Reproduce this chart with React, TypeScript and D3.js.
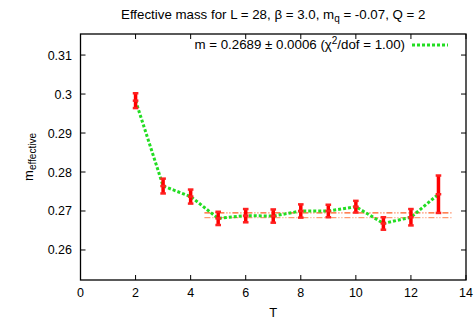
import React from "react";
import * as d3 from "d3";

const T = [2, 3, 4, 5, 6, 7, 8, 9, 10, 11, 12, 13];
const mEff = [0.2983, 0.2764, 0.2737, 0.2681, 0.2688, 0.2687, 0.2700, 0.2700, 0.2711, 0.2668, 0.2684, 0.2743];
const mErr = [0.0019, 0.0019, 0.0018, 0.0017, 0.0017, 0.0017, 0.0017, 0.0016, 0.0015, 0.0016, 0.0021, 0.0048];
const xTicks = [0, 2, 4, 6, 8, 10, 12, 14];
const yTicks = [0.26, 0.27, 0.28, 0.29, 0.3, 0.31];
const yTickLabels = ["0.26", "0.27", "0.28", "0.29", "0.3", "0.31"];
const fitValue = 0.2689;
const fitError = 0.0006;
const fitRange = [4.5, 13.5];

const W = 474;
const H = 320;
const left = 80.5;
const right = 466;
const top = 34;
const bottom = 280;

export default function App() {
  const x = d3.scaleLinear().domain([0, 14]).range([left, right]);
  const y = d3.scaleLinear().domain([0.2523, 0.3154]).range([bottom, top]);
  const line = d3
    .line<number>()
    .x((_, i) => x(T[i]))
    .y((d) => y(d));
  const font = "'Liberation Sans', Arial, Helvetica, sans-serif";
  const green = "#22dd22";
  return (
    <svg
      width={W}
      height={H}
      style={{ position: "absolute", left: 0, top: 0, background: "#fff" }}
      fontFamily={font}
      fontSize={12}
    >
      <rect x={0} y={0} width={W} height={H} fill="#fff" />
      {/* title */}
      <text x={(left + right) / 2} y={19} textAnchor="middle" fontSize={13.3}>
        Effective mass for L = 28, β = 3.0, m
        <tspan fontSize={10} dy={3}>q</tspan>
        <tspan dy={-3}> = -0.07, Q = 2</tspan>
      </text>
      {/* fit lines */}
      <line
        x1={x(fitRange[0])}
        x2={x(fitRange[1])}
        y1={y(fitValue + fitError)}
        y2={y(fitValue + fitError)}
        stroke="#ff5a1e"
        strokeWidth={1.2}
        strokeDasharray="6,2,1,2,1,2"
      />
      <line
        x1={x(fitRange[0])}
        x2={x(fitRange[1])}
        y1={y(fitValue - fitError)}
        y2={y(fitValue - fitError)}
        stroke="#ff9a70"
        strokeWidth={1.2}
        strokeDasharray="6,2,1,2,1,2"
      />
      {/* green dotted line */}
      <path d={line(mEff) || ""} fill="none" stroke={green} strokeWidth={3} strokeDasharray="3,2" />
      {/* error bars */}
      {T.map((t, i) => {
        const cx = x(t);
        const y0 = y(mEff[i] - mErr[i]);
        const y1 = y(mEff[i] + mErr[i]);
        const yc = y(mEff[i]);
        return (
          <g key={t}>
            <line x1={cx} x2={cx} y1={y0} y2={y1} stroke="#ff0000" strokeWidth={3.5} />
            <line x1={cx - 2.8} x2={cx + 2.8} y1={y0} y2={y0} stroke="#ff2020" strokeWidth={2.5} />
            <line x1={cx - 2.8} x2={cx + 2.8} y1={y1} y2={y1} stroke="#ff2020" strokeWidth={2.5} />
            <line x1={cx - 2.8} x2={cx + 2.8} y1={yc} y2={yc} stroke="#ff2020" strokeWidth={2.5} />
          </g>
        );
      })}
      {/* frame */}
      <rect x={left} y={top} width={right - left} height={bottom - top} fill="none" stroke="#000" strokeWidth={1.3} />
      {/* ticks */}
      {xTicks.map((t) => (
        <g key={"x" + t}>
          <line x1={x(t)} x2={x(t)} y1={bottom} y2={bottom - 5} stroke="#000" />
          <line x1={x(t)} x2={x(t)} y1={top} y2={top + 5} stroke="#000" />
          <text x={x(t)} y={297} textAnchor="middle" fontSize={12.5}>
            {t}
          </text>
        </g>
      ))}
      {yTicks.map((t, i) => (
        <g key={"y" + t}>
          <line x1={left} x2={left + 5} y1={y(t)} y2={y(t)} stroke="#000" />
          <line x1={right} x2={right - 5} y1={y(t)} y2={y(t)} stroke="#000" />
          <text x={72} y={y(t) + 4.5} textAnchor="end" fontSize={12.5}>
            {yTickLabels[i]}
          </text>
        </g>
      ))}
      {/* axis labels */}
      <text x={(left + right) / 2} y={317} textAnchor="middle" fontSize={13}>
        T
      </text>
      <text transform={`translate(33, ${(top + bottom) / 2}) rotate(-90)`} textAnchor="middle" fontSize={13}>
        m<tspan fontSize={10} dy={3}>effective</tspan>
      </text>
      {/* legend */}
      <text x={405} y={49} textAnchor="end" fontSize={13.3}>
        m = 0.2689 ± 0.0006 (χ<tspan fontSize={10} dy={-5}>2</tspan>
        <tspan dy={5}>/dof = 1.00)</tspan>
      </text>
      <line x1={412} x2={448} y1={45} y2={45} stroke={green} strokeWidth={3} strokeDasharray="3,2" />
    </svg>
  );
}
